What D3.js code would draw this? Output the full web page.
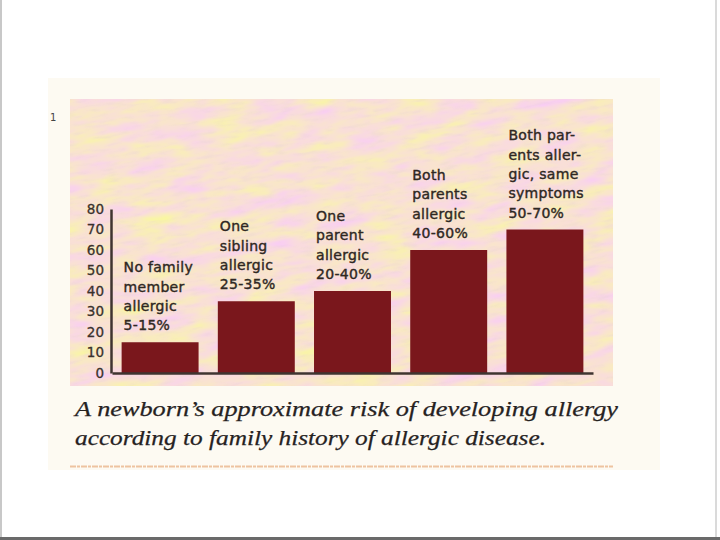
<!DOCTYPE html>
<html><head><meta charset="utf-8">
<script src="https://cdn.jsdelivr.net/npm/d3@7/dist/d3.min.js"></script>
<style>html,body{margin:0;padding:0;background:#fff;}svg{display:block;}</style>
</head><body>
<script>
// ---- data ----
const categories = ["No family member allergic","One sibling allergic","One parent allergic","Both parents allergic","Both parents allergic, same symptoms"];
const values = [15, 35, 40, 60, 70];
const labelLines = [
  ["No family","member","allergic","5-15%"],
  ["One","sibling","allergic","25-35%"],
  ["One","parent","allergic","20-40%"],
  ["Both","parents","allergic","40-60%"],
  ["Both par-","ents aller-","gic, same","symptoms","50-70%"]
];
const yTicks = [0, 10, 20, 30, 40, 50, 60, 70, 80];
const captionLines = ["A newborn\u2019s approximate risk of developing allergy",
                      "according to family history of allergic disease."];
const figureNumber = "1";

// ---- layout ----
const W = 720, H = 540;
const svg = d3.select("body").append("svg").attr("width", W).attr("height", H);
const defs = svg.append("defs");

const f = defs.append("filter").attr("id","tex").attr("x",0).attr("y",0).attr("width",1).attr("height",1);
f.append("feTurbulence").attr("type","fractalNoise").attr("baseFrequency","0.022 0.07")
  .attr("numOctaves",3).attr("seed",7).attr("result","n");
f.append("feColorMatrix").attr("in","n").attr("type","matrix")
  .attr("values","0 0 0 0 0.95  0.40 0 0 0 0.56  -0.70 0 0 0 0.99  0 0 0 0 1");
const f2 = defs.append("filter").attr("id","grain").attr("x",0).attr("y",0).attr("width",1).attr("height",1);
f2.append("feTurbulence").attr("type","fractalNoise").attr("baseFrequency","0.06 0.25")
  .attr("numOctaves",2).attr("seed",11).attr("result","g");
f2.append("feColorMatrix").attr("in","g").attr("type","matrix")
  .attr("values","0 0 0 0 0.80  0 0 0 0 0.64  0 0 0 0 0.66  2.0 0 0 0 -1.05");

defs.append("clipPath").attr("id","panelClip").append("rect")
  .attr("x",70).attr("y",99).attr("width",543).attr("height",287);

// page
svg.append("rect").attr("x",0).attr("y",0).attr("width",W).attr("height",H).attr("fill","#fff");
// paper
svg.append("rect").attr("x",48).attr("y",78).attr("width",612).attr("height",392).attr("fill","#fdfaf2");
// textured panel
const pg = svg.append("g").attr("clip-path","url(#panelClip)");
pg.append("rect").attr("x",70).attr("y",99).attr("width",543).attr("height",287).attr("fill","#f1c4ac");
pg.append("g").attr("transform","rotate(-9 340 240)")
  .append("rect").attr("x",-20).attr("y",-40).attr("width",720).attr("height",560).attr("filter","url(#tex)");
pg.append("g").attr("transform","rotate(-9 340 240)")
  .append("rect").attr("x",-20).attr("y",-40).attr("width",720).attr("height",560).attr("filter","url(#grain)").attr("opacity",0.5);

// bottom rule of the page
svg.append("line").attr("x1",70).attr("x2",613).attr("y1",466.5).attr("y2",466.5)
  .attr("stroke","#eec3a0").attr("stroke-width",2).attr("stroke-dasharray","6 1 3 1");

// scales
const x = d3.scaleBand().domain(categories).range([112, 593]).paddingInner(0.2).paddingOuter(0.1);
const y = d3.scaleLinear().domain([0, 80]).range([373, 209]);

// bars
svg.append("g").selectAll("rect").data(values).join("rect")
  .attr("x",(d,i)=>x(categories[i])).attr("width",x.bandwidth())
  .attr("y",d=>y(d)).attr("height",d=>y(0)-y(d))
  .attr("fill","#7a171c");

// axes
const yAxis = svg.append("g").attr("transform","translate(111,0)")
  .call(d3.axisLeft(y).tickValues(yTicks).tickSize(0).tickPadding(7).tickFormat(d3.format("d")));
yAxis.select(".domain").attr("stroke","#3f3430").attr("stroke-width",2.5);
yAxis.selectAll("text").attr("font-family","DejaVu Sans").attr("font-size",13.5).attr("fill","#3a312c")
  .attr("stroke","#3a312c").attr("stroke-width",0.3);

const xAxis = svg.append("g").attr("transform","translate(0,373)")
  .call(d3.axisBottom(x).tickSize(0).tickFormat(""));
xAxis.select(".domain").attr("stroke","#3f3430").attr("stroke-width",2.5);

// bar labels
const lg = svg.append("g").attr("font-family","DejaVu Sans").attr("font-size",14)
  .attr("fill","#2f2823").attr("stroke","#2f2823").attr("stroke-width",0.4).attr("letter-spacing",0.3);
labelLines.forEach((lines,i)=>{
  const x0 = x(categories[i]) + 2;
  const yLast = y(values[i]) - 12;
  const t = lg.append("text");
  lines.forEach((s,j)=>{
    t.append("tspan").attr("x",x0).attr("y", yLast - (lines.length-1-j)*19.3).text(s);
  });
});

// figure number
svg.append("text").attr("x",50).attr("y",121).attr("font-family","DejaVu Sans")
  .attr("font-size",10).attr("fill","#444").text(figureNumber);

// caption
const capLens = [543, 471];
captionLines.forEach((s,i)=>{
  svg.append("text").attr("x",75).attr("y",416 + i*28.5)
    .attr("font-family","Liberation Serif").attr("font-style","italic").attr("font-size",22)
    .attr("fill","#26221f").attr("stroke","#26221f").attr("stroke-width",0.25)
    .attr("textLength",capLens[i]).attr("lengthAdjust","spacingAndGlyphs")
    .text(s);
});

// photo frame edges
svg.append("line").attr("x1",1).attr("x2",1).attr("y1",0).attr("y2",H).attr("stroke","#c8c8c8").attr("stroke-width",2);
svg.append("line").attr("x1",716).attr("x2",716).attr("y1",0).attr("y2",H).attr("stroke","#dadada").attr("stroke-width",2);
svg.append("line").attr("x1",0).attr("x2",W).attr("y1",538.5).attr("y2",538.5).attr("stroke","#6a6a6a").attr("stroke-width",3);
</script>
</body></html>
